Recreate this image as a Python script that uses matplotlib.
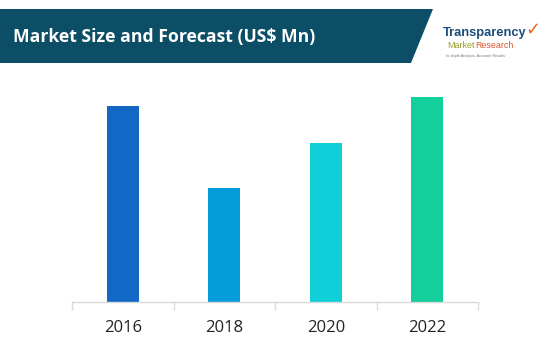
import matplotlib.pyplot as plt
from matplotlib.patches import Polygon

# ---------- DATA ----------
years = ["2016", "2018", "2020", "2022"]
values = [19.6, 11.4, 15.9, 20.5]
colors = ["#1269c5", "#059dd9", "#0fcfd8", "#13cf9b"]

W, H = 545, 346

fig = plt.figure(figsize=(W / 100, H / 100), dpi=100)
fig.patch.set_facecolor("white")

# ---------- BANNER ----------
banner = Polygon([(0, 1 - 9 / H), (433 / W, 1 - 9 / H), (411 / W, 1 - 63 / H), (0, 1 - 63 / H)],
                 closed=True, transform=fig.transFigure, facecolor="#0c4e66", edgecolor="none")
fig.patches.append(banner)
fig.text(13 / W, 1 - 37 / H, "Market Size and Forecast (US$ Mn)", color="white",
         fontsize=12.7, fontweight="bold", family="Open Sans", va="center", ha="left")

# ---------- LOGO (as text) ----------
fig.text(443 / W, 1 - 33 / H, "Transparency", color="#1d4f7a", fontsize=9.3,
         fontweight="bold", family="Liberation Sans", va="center", ha="left")
fig.text(447 / W, 1 - 46 / H, "Market", color="#9a9a2a", fontsize=6.4,
         family="Liberation Sans", va="center", ha="left")
fig.text(475 / W, 1 - 46 / H, "Research", color="#d9532b", fontsize=6.4,
         family="Liberation Sans", va="center", ha="left")
fig.text(446 / W, 1 - 56 / H, "In-depth Analysis. Accurate Results", color="#777777",
         fontsize=2.7, family="Liberation Sans", va="center", ha="left")
fig.text(533 / W, 1 - 30 / H, "\u2713", color="#e8652a", fontsize=13, fontweight="bold",
         family="DejaVu Sans", va="center", ha="center")

# ---------- CHART ----------
ax = fig.add_axes([72 / W, 44 / H, 406 / W, 222 / H])
x = range(len(years))
ax.bar(x, values, width=0.315, color=colors)
ax.set_xlim(-0.5, len(years) - 0.5)
ax.set_ylim(0, 22.2)

for s in ["top", "right", "left"]:
    ax.spines[s].set_visible(False)
ax.spines["bottom"].set_color("#d9d9d9")
ax.spines["bottom"].set_linewidth(1)
ax.set_yticks([])
ax.set_xticks([i - 0.5 for i in range(len(years) + 1)], minor=False)
ax.set_xticklabels([])
ax.tick_params(axis="x", length=6, color="#d9d9d9", width=1)
ax.set_xticks(list(x), minor=True)
ax.set_xticklabels(years, minor=True, fontsize=12, color="#222222", family="Open Sans")
ax.tick_params(axis="x", which="minor", length=0, pad=13)

plt.savefig("out.png", dpi=100)
